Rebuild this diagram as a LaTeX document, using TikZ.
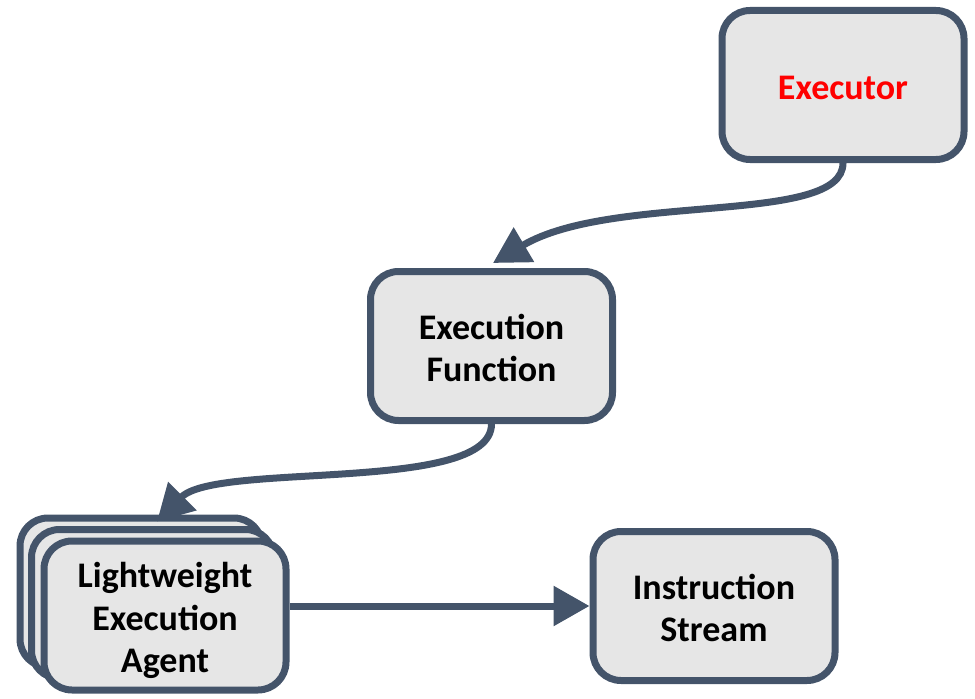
\documentclass[tikz,border=0pt]{standalone}
\usepackage{fontspec}
\setmainfont{Carlito}
\usetikzlibrary{arrows.meta,calc}
\definecolor{bd}{HTML}{44546A}
\definecolor{boxfill}{HTML}{E6E6E6}
\definecolor{redtext}{HTML}{FF0000}
\begin{document}
\begin{tikzpicture}[x=0.75pt,y=-0.75pt,
  box/.style={draw=bd, fill=boxfill, line width=5.25pt, rounded corners=21pt,
    minimum width=181.5pt, minimum height=111.75pt, inner sep=0pt},
  boxtext/.style={align=center, inner sep=0pt,
    font=\fontsize{27}{32}\selectfont\bfseries},
  conn/.style={draw=bd, line width=5.25pt, -{Triangle[length=27pt,width=29pt]}}]
\useasboundingbox (0,0) rectangle (975,699);
\node[box] (ex) at (843,85) {};
\node[box] (ef) at (491.5,346) {};
\node[box] (is) at (714,606) {};
\node[box] (a3) at (141,592.5) {};
\node[box] (a2) at (152.5,604) {};
\node[box] (a1) at (165,615.5) {};
\node[boxtext, text=redtext] (ext) at ($(ex.center)+(0,3)$) {Executor};
\node[boxtext] (eft) at ($(ef.center)+(0,2)$) {Execution\\Function};
\node[boxtext] (ist) at ($(is.center)+(0,2)$) {Instruction\\Stream};
\node[boxtext] (a1t) at ($(a1.center)+(0,5)$) {Lightweight\\Execution\\Agent};
\draw[conn] (ex.south) .. controls +(0,63) and +(120,-71) .. ($(ef.north)+(1.5,-5)$);
\draw[conn] (ef.south) .. controls +(0,70) and +(60,-60) .. ($(a3.north)+(16,7)$);
\draw[conn] (a1.east |- is.west) -- (is.west);
\end{tikzpicture}
\end{document}
